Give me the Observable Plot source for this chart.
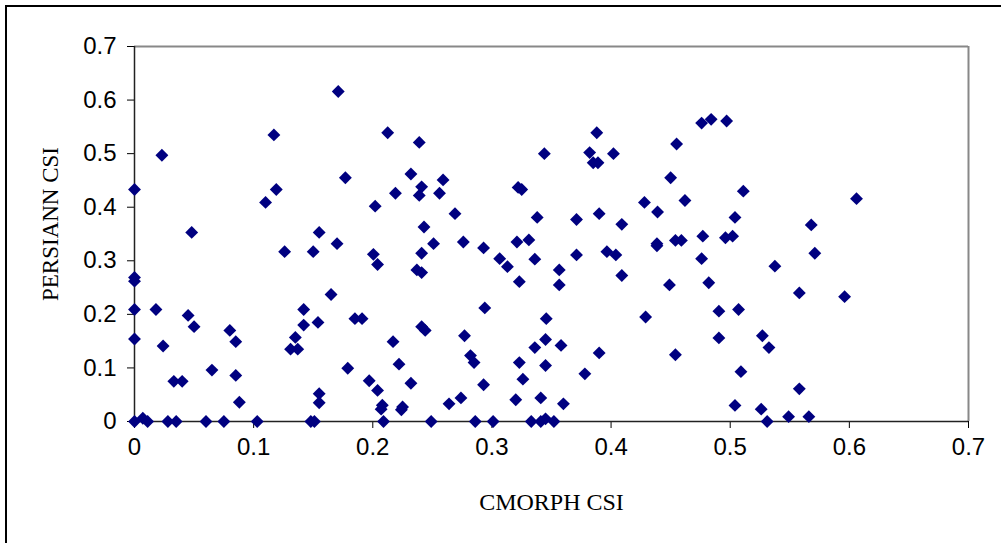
<!DOCTYPE html>
<html>
<head>
<meta charset="utf-8">
<script src="https://cdn.jsdelivr.net/npm/d3@7"></script>
<script src="https://cdn.jsdelivr.net/npm/@observablehq/plot@0.6"></script>
<style>
  html, body { margin: 0; padding: 0; background: #fff; overflow: hidden; }
  #chart { position: absolute; left: 0; top: 0; }
  #frame {
    position: absolute; left: 5px; top: 5px; width: 1100px; height: 700px;
    border-left: 2px solid #000; border-top: 2px solid #000;
    pointer-events: none;
  }
</style>
</head>
<body>
<div id="chart"></div>
<div id="frame"></div>
<script>
// CSI scores per case: CMORPH (x) against PERSIANN (y)
const cmorphCSI = [
  0, 0.023, 0.117, 0.119, 0.110, 0.048, 0.155, 0.171, 0.170, 0.177,
  0.126, 0.150, 0, 0, 0.165, 0, 0.018, 0.045, 0.050, 0.142,
  0.142, 0.154, 0.135, 0.131, 0.137, 0.080, 0.085, 0, 0.024, 0.065,
  0.085, 0.033, 0.040, 0.088, 0.155, 0.155, 0, 0.007, 0.011, 0.028,
  0.035, 0.060, 0.075, 0.103, 0.148, 0.151, 0.2125, 0.239, 0.344, 0.232,
  0.259, 0.241, 0.219, 0.239, 0.256, 0.322, 0.325, 0.202, 0.269, 0.338,
  0.243, 0.2005, 0.204, 0.241, 0.251, 0.237, 0.241, 0.276, 0.293, 0.3065,
  0.313, 0.321, 0.331, 0.336, 0.323, 0.294, 0.3456, 0.185, 0.191, 0.241,
  0.244, 0.277, 0.217, 0.345, 0.336, 0.282, 0.285, 0.179, 0.222, 0.323,
  0.345, 0.326, 0.197, 0.204, 0.232, 0.293, 0.274, 0.264, 0.208, 0.207,
  0.225, 0.224, 0.320, 0.341, 0.209, 0.249, 0.286, 0.301, 0.333, 0.341,
  0.345, 0.352, 0.360, 0.476, 0.484, 0.497, 0.388, 0.382, 0.402, 0.385,
  0.389, 0.455, 0.450, 0.511, 0.428, 0.439, 0.462, 0.390, 0.371, 0.409,
  0.504, 0.4385, 0.4385, 0.454, 0.459, 0.477, 0.496, 0.502, 0.371, 0.3965,
  0.404, 0.3565, 0.3565, 0.409, 0.476, 0.449, 0.482, 0.429, 0.4905, 0.507,
  0.4905, 0.358, 0.390, 0.454, 0.378, 0.509, 0.504, 0.606, 0.568, 0.571,
  0.5375, 0.558, 0.596, 0.527, 0.5325, 0.558, 0.526, 0.531, 0.549, 0.566
];
const persiannCSI = [
  0.433, 0.497, 0.535, 0.433, 0.409, 0.353, 0.353, 0.616, 0.332, 0.455,
  0.317, 0.317, 0.269, 0.262, 0.237, 0.209, 0.209, 0.198, 0.177, 0.209,
  0.180, 0.185, 0.157, 0.135, 0.135, 0.170, 0.149, 0.154, 0.141, 0.096,
  0.086, 0.075, 0.075, 0.036, 0.052, 0.035, 0, 0.006, 0, 0,
  0, 0, 0, 0, 0, 0, 0.539, 0.521, 0.500, 0.462,
  0.451, 0.438, 0.426, 0.422, 0.426, 0.437, 0.433, 0.402, 0.388, 0.381,
  0.363, 0.312, 0.293, 0.314, 0.332, 0.283, 0.278, 0.335, 0.324, 0.304,
  0.289, 0.335, 0.339, 0.303, 0.261, 0.212, 0.192, 0.192, 0.192, 0.177,
  0.170, 0.160, 0.149, 0.153, 0.138, 0.123, 0.110, 0.0995, 0.107, 0.110,
  0.1045, 0.079, 0.076, 0.058, 0.0715, 0.0685, 0.044, 0.033, 0.0305, 0.023,
  0.027, 0.022, 0.0405, 0.044, 0, 0, 0, 0, 0, 0,
  0.005, 0, 0.033, 0.557, 0.564, 0.561, 0.539, 0.502, 0.500, 0.483,
  0.483, 0.518, 0.455, 0.430, 0.409, 0.391, 0.4125, 0.388, 0.377, 0.368,
  0.381, 0.332, 0.328, 0.338, 0.338, 0.346, 0.343, 0.346, 0.311, 0.317,
  0.311, 0.283, 0.255, 0.2725, 0.304, 0.255, 0.259, 0.195, 0.206, 0.209,
  0.156, 0.142, 0.128, 0.1245, 0.089, 0.093, 0.030, 0.416, 0.367, 0.314,
  0.290, 0.240, 0.233, 0.160, 0.138, 0.061, 0.023, 0, 0.009, 0.009
];

// Axis ticks and their labels
const tickValues = [0, 0.1, 0.2, 0.3, 0.4, 0.5, 0.6, 0.7];
const tickLabels = ["0", "0.1", "0.2", "0.3", "0.4", "0.5", "0.6", "0.7"];
const xTitle = "CMORPH CSI";
const yTitle = "PERSIANN CSI";

const points = cmorphCSI.map((x, i) => ({x, y: persiannCSI[i]}));
const fmt = d => tickLabels[tickValues.findIndex(v => Math.abs(v - d) < 1e-9)];
const serif = "'Liberation Serif', 'Times New Roman', serif";

const chart = Plot.plot({
  width: 1001,
  height: 543,
  marginLeft: 134,
  marginRight: 33,
  marginTop: 46,
  marginBottom: 122,
  style: {
    background: "transparent",
    fontFamily: "'Liberation Sans', Arial, sans-serif",
    fontSize: "24px",
    color: "#000"
  },
  x: {domain: [0, 0.7], ticks: tickValues, tickFormat: fmt, tickSize: 7, tickPadding: 9, label: null},
  y: {domain: [0, 0.7], ticks: tickValues, tickFormat: fmt, tickSize: 7, tickPadding: 11, label: null},
  marks: [
    // plot-area outline: grey top/right, dark axis lines left/bottom
    Plot.ruleY([0.7], {stroke: "#888", strokeWidth: 2}),
    Plot.ruleX([0.7], {stroke: "#888", strokeWidth: 2}),
    Plot.ruleY([0], {stroke: "#222", strokeWidth: 1.5}),
    Plot.ruleX([0], {stroke: "#222", strokeWidth: 1.5}),
    Plot.dot(points, {x: "x", y: "y", symbol: "diamond2", r: 5.8, fill: "#000080", stroke: "none"}),
    Plot.text([xTitle], {frameAnchor: "bottom", dy: 81, textAnchor: "middle", lineAnchor: "middle",
      fontFamily: serif, fontSize: 24, fill: "#000"}),
    Plot.text([yTitle], {frameAnchor: "left", dx: -84, dy: -10, rotate: -90, textAnchor: "middle", lineAnchor: "middle",
      fontFamily: serif, fontSize: 23, fill: "#000"})
  ]
});
document.getElementById("chart").appendChild(chart);
</script>
</body>
</html>
